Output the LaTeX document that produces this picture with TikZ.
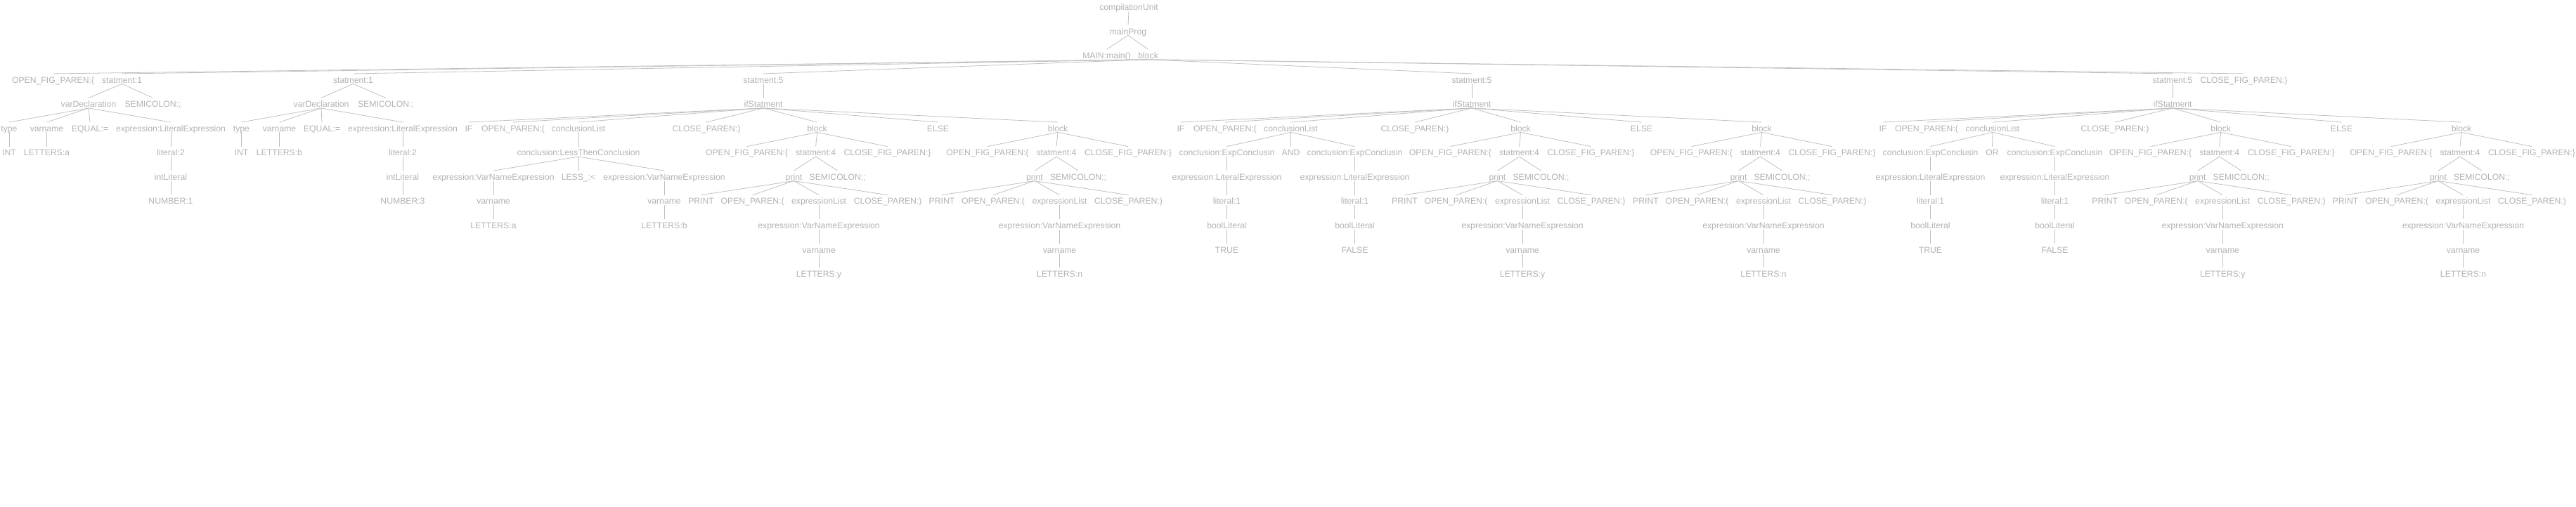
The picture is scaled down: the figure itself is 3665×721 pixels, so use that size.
\documentclass[tikz,border=0pt]{standalone}
\usepackage{fontspec}
\setmainfont{Liberation Sans}
\definecolor{txtgray}{RGB}{178,178,178}
\definecolor{lngray}{RGB}{192,192,192}
\tikzset{
  lbl/.style={font=\fontsize{12.2}{14}\selectfont, text=txtgray, inner sep=0pt,
              text height=13pt, text depth=1pt, anchor=base},
  conn/.style={draw=lngray, line width=0.8pt}
}
\newcommand\mynode[4]{\node[lbl] (#1) at ({#2},{-14.5-34.55*(#3)}) {#4};}
\newcommand\myedge[2]{\draw[conn] (#1.south) -- (#2.north);}
\newcommand\PBlock[3]{%
  \mynode{#1o}{#2-100}{6}{OPEN\_FIG\_PAREN:\{}
  \mynode{#1s}{#2-2}{6}{statment:4}
  \mynode{#1c}{#2+100}{6}{CLOSE\_FIG\_PAREN:\}}
  \mynode{#1p}{#2-33}{7}{print}
  \mynode{#1sc}{#2+29}{7}{SEMICOLON:;}
  \mynode{#1P}{#2-165}{8}{PRINT}
  \mynode{#1op}{#2-92}{8}{OPEN\_PAREN:(}
  \mynode{#1el}{#2+2.5}{8}{expressionList}
  \mynode{#1cp}{#2+100.5}{8}{CLOSE\_PAREN:)}
  \mynode{#1ve}{#2+2.5}{9}{expression:VarNameExpression}
  \mynode{#1vn}{#2+2.5}{10}{varname}
  \mynode{#1lt}{#2+2.5}{11}{LETTERS:#3}
  \myedge{#1}{#1o}\myedge{#1}{#1s}\myedge{#1}{#1c}
  \myedge{#1s}{#1p}\myedge{#1s}{#1sc}
  \myedge{#1p}{#1P}\myedge{#1p}{#1op}\myedge{#1p}{#1el}\myedge{#1p}{#1cp}
  \myedge{#1el}{#1ve}\myedge{#1ve}{#1vn}\myedge{#1vn}{#1lt}}
\newcommand\LChain[3]{%
  \mynode{#1e}{#2}{7}{expression:LiteralExpression}
  \mynode{#1l}{#2}{8}{literal:1}
  \mynode{#1b}{#2}{9}{boolLiteral}
  \mynode{#1v}{#2}{10}{#3}
  \myedge{#1}{#1e}\myedge{#1e}{#1l}\myedge{#1l}{#1b}\myedge{#1b}{#1v}}
\begin{document}
\begin{tikzpicture}[x=1pt,y=1pt]
\useasboundingbox (0,0) rectangle (3665,-721);
% top
\mynode{cu}{1606}{0}{compilationUnit}
\mynode{mp}{1605}{1}{mainProg}
\mynode{mn}{1574.5}{2}{MAIN:main()}
\mynode{bk}{1633.6}{2}{block}
\myedge{cu}{mp}\myedge{mp}{mn}\myedge{mp}{bk}
% row 3
\mynode{ofp}{75.6}{3}{OPEN\_FIG\_PAREN:\{}
\mynode{sa}{173.6}{3}{statment:1}
\mynode{sb}{502.5}{3}{statment:1}
\mynode{sfa}{1086}{3}{statment:5}
\mynode{sfb}{2094}{3}{statment:5}
\mynode{sfc}{3091}{3}{statment:5}
\mynode{cfp}{3192.5}{3}{CLOSE\_FIG\_PAREN:\}}
\foreach \c in {ofp,sa,sb,sfa,sfb,sfc,cfp}{\myedge{bk}{\c}}
% statment:1 a
\mynode{vdA}{126}{4}{varDeclaration}
\mynode{smA}{217.5}{4}{SEMICOLON:;}
\mynode{tyA}{13}{5}{type}
\mynode{vnA}{66.5}{5}{varname}
\mynode{eqA}{128}{5}{EQUAL:=}
\mynode{exA}{243}{5}{expression:LiteralExpression}
\mynode{inA}{13}{6}{INT}
\mynode{ltA}{66.5}{6}{LETTERS:a}
\mynode{liA}{243}{6}{literal:2}
\mynode{ilA}{243}{7}{intLiteral}
\mynode{nuA}{243}{8}{NUMBER:1}
\myedge{sa}{vdA}\myedge{sa}{smA}
\myedge{vdA}{tyA}\myedge{vdA}{vnA}\myedge{vdA}{eqA}\myedge{vdA}{exA}
\myedge{tyA}{inA}\myedge{vnA}{ltA}\myedge{exA}{liA}\myedge{liA}{ilA}\myedge{ilA}{nuA}
% statment:1 b
\mynode{vdB}{457}{4}{varDeclaration}
\mynode{smB}{549}{4}{SEMICOLON:;}
\mynode{tyB}{343.5}{5}{type}
\mynode{vnB}{397.5}{5}{varname}
\mynode{eqB}{458}{5}{EQUAL:=}
\mynode{exB}{573}{5}{expression:LiteralExpression}
\mynode{inB}{343.5}{6}{INT}
\mynode{ltB}{397.5}{6}{LETTERS:b}
\mynode{liB}{573}{6}{literal:2}
\mynode{ilB}{573}{7}{intLiteral}
\mynode{nuB}{573}{8}{NUMBER:3}
\myedge{sb}{vdB}\myedge{sb}{smB}
\myedge{vdB}{tyB}\myedge{vdB}{vnB}\myedge{vdB}{eqB}\myedge{vdB}{exB}
\myedge{tyB}{inB}\myedge{vnB}{ltB}\myedge{exB}{liB}\myedge{liB}{ilB}\myedge{ilB}{nuB}
% if A
\mynode{ifA}{1086}{4}{ifStatment}
\myedge{sfa}{ifA}
\mynode{iA}{667}{5}{IF}
\mynode{oA}{730}{5}{OPEN\_PAREN:(}
\mynode{clA}{823}{5}{conclusionList}
\mynode{cA}{1005}{5}{CLOSE\_PAREN:)}
\mynode{bA}{1162.6}{5}{block}
\mynode{eA}{1334.5}{5}{ELSE}
\mynode{bAA}{1505}{5}{block}
\foreach \c in {iA,oA,clA,cA,bA,eA,bAA}{\myedge{ifA}{\c}}
\mynode{cnA}{823}{6}{conclusion:LessThenConclusion}
\myedge{clA}{cnA}
\mynode{veA}{702}{7}{expression:VarNameExpression}
\mynode{lsA}{823}{7}{LESS\_:<}
\mynode{veAA}{945}{7}{expression:VarNameExpression}
\myedge{cnA}{veA}\myedge{cnA}{lsA}\myedge{cnA}{veAA}
\mynode{vnAa}{702}{8}{varname}
\mynode{vnAb}{945}{8}{varname}
\mynode{lAa}{702}{9}{LETTERS:a}
\mynode{lAb}{945}{9}{LETTERS:b}
\myedge{veA}{vnAa}\myedge{veAA}{vnAb}\myedge{vnAa}{lAa}\myedge{vnAb}{lAb}
\PBlock{bA}{1162.6}{y}
\PBlock{bAA}{1505}{n}
% if B
\mynode{ifB}{2094}{4}{ifStatment}
\myedge{sfb}{ifB}
\mynode{iB}{1680}{5}{IF}
\mynode{oB}{1743}{5}{OPEN\_PAREN:(}
\mynode{clB}{1836.5}{5}{conclusionList}
\mynode{cB}{2013}{5}{CLOSE\_PAREN:)}
\mynode{bB}{2163.5}{5}{block}
\mynode{eB}{2335.5}{5}{ELSE}
\mynode{bBB}{2506.5}{5}{block}
\foreach \c in {iB,oB,clB,cB,bB,eB,bBB}{\myedge{ifB}{\c}}
\mynode{cnB}{1745.5}{6}{conclusion:ExpConclusin}
\mynode{anB}{1836.5}{6}{AND}
\mynode{cnBB}{1927.5}{6}{conclusion:ExpConclusin}
\myedge{clB}{cnB}\myedge{clB}{anB}\myedge{clB}{cnBB}
\LChain{cnB}{1745.5}{TRUE}
\LChain{cnBB}{1927.5}{FALSE}
\PBlock{bB}{2163.5}{y}
\PBlock{bBB}{2506.5}{n}
% if C
\mynode{ifC}{3091}{4}{ifStatment}
\myedge{sfc}{ifC}
\mynode{iC}{2679}{5}{IF}
\mynode{oC}{2741}{5}{OPEN\_PAREN:(}
\mynode{clC}{2835}{5}{conclusionList}
\mynode{cC}{3009}{5}{CLOSE\_PAREN:)}
\mynode{bC}{3159.7}{5}{block}
\mynode{eC}{3331.5}{5}{ELSE}
\mynode{bCC}{3502}{5}{block}
\foreach \c in {iC,oC,clC,cC,bC,eC,bCC}{\myedge{ifC}{\c}}
\mynode{cnC}{2746.5}{6}{conclusion:ExpConclusin}
\mynode{orC}{2834.5}{6}{OR}
\mynode{cnCC}{2923.5}{6}{conclusion:ExpConclusin}
\myedge{clC}{cnC}\myedge{clC}{orC}\myedge{clC}{cnCC}
\LChain{cnC}{2746.5}{TRUE}
\LChain{cnCC}{2923.5}{FALSE}
\PBlock{bC}{3159.7}{y}
\PBlock{bCC}{3502}{n}
\end{tikzpicture}
\end{document}
